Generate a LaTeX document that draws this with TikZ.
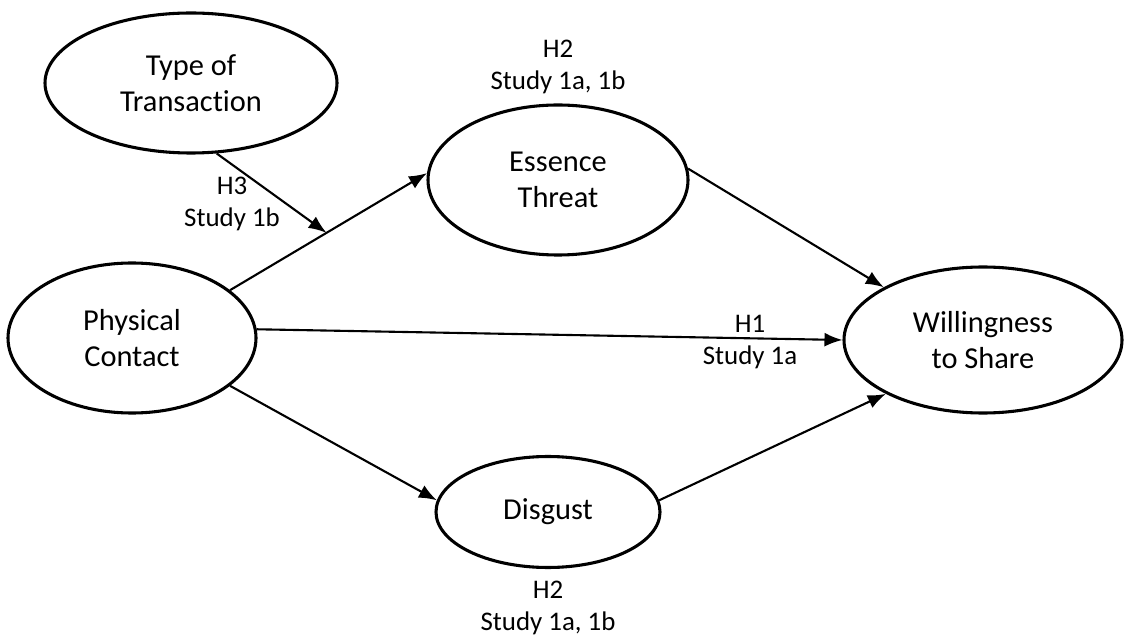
\documentclass[tikz,border=0pt]{standalone}
\usepackage{fontspec}
\setmainfont{Carlito}[Ligatures=NoCommon]
\usetikzlibrary{shapes.geometric}
\usetikzlibrary{arrows.meta}
\usetikzlibrary{positioning}

\begin{document}
\begin{tikzpicture}[every path/.style={>={Latex[length=3.6mm,width=2.8mm]}},
		var/.style={draw,ellipse,line width=1.75pt,inner sep=0pt,align=center,font=\fontsize{17.3}{20.5}\selectfont},
		lab/.style={align=center,inner sep=0pt,font=\fontsize{15.3}{18.2}\selectfont}]
			\useasboundingbox (0,0) rectangle (22.58,12.7);

			% draw nodes
			\node (V_type) at (3.82,11.04) [var,minimum width=5.84cm,minimum height=2.8cm] {Type of\\Transaction};
			\node (V_essence) at (11.16,9.1) [var,minimum width=5.2cm,minimum height=3cm] {Essence\\Threat};
			\node (V_contact) at (2.64,5.94) [var,minimum width=4.96cm,minimum height=3cm] {Physical\\Contact};
			\node (V_share) at (19.66,5.9) [var,minimum width=5.56cm,minimum height=2.92cm] {Willingness\\to Share};
			\node (V_disgust) at (10.96,2.46) [var,minimum width=4.48cm,minimum height=2.22cm] {Disgust};

			% draw labels
			\node (L_essence) [lab,above=0.18cm of V_essence] {H2\\Study 1a, 1b};
			\node (L_disgust) [lab,below=0.24cm of V_disgust] {H2\\Study 1a, 1b};
			\node (L_type) at (4.64,8.63) [lab] {H3\\Study 1b};
			\node (L_direct) at (15.0,5.85) [lab] {H1\\Study 1a};

			% draw arrows
			\draw[->,line width=1.2pt] (V_contact.26) -- coordinate[pos=0.49] (M_mod) (V_essence.177);
			\draw[->,line width=1.2pt] (V_type.290) -- (M_mod);
			\draw[->,line width=1.2pt] (V_contact.4) -- (V_share.180);
			\draw[->,line width=1.2pt] (V_contact.334) -- (V_disgust.174);
			\draw[->,line width=1.2pt] (V_essence.5) -- (V_share.152);
			\draw[->,line width=1.2pt] (V_disgust.6) -- (V_share.209);
		\end{tikzpicture}
\end{document}
